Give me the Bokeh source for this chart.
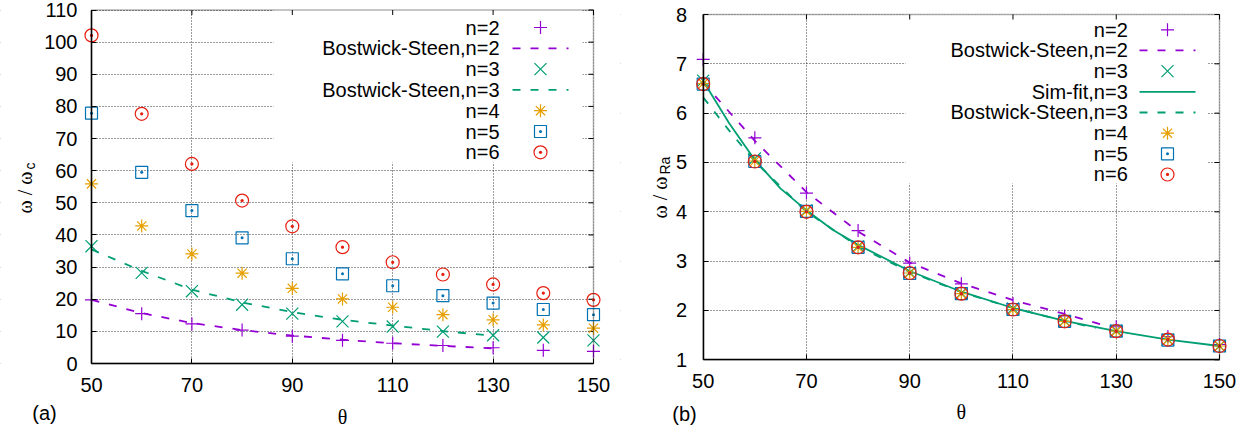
import math
from bokeh.plotting import figure
from bokeh.layouts import row
from bokeh.models import Range1d, FixedTicker, Label, BoxAnnotation, LinearAxis, Grid
from bokeh.embed import file_html
from bokeh.resources import INLINE

# ---------------- data ----------------
theta = [50, 60, 70, 80, 90, 100, 110, 120, 130, 140, 150]

# panel (a): omega / omega_c
a_n2 = [19.8, 15.5, 12.3, 10.4, 8.5, 7.2, 6.3, 5.6, 4.9, 4.1, 3.8]
a_n3 = [36.5, 28.2, 22.5, 18.3, 15.5, 13.1, 11.5, 9.9, 8.8, 8.1, 7.2]
a_n4 = [55.9, 42.8, 34.1, 28.1, 23.4, 20.1, 17.5, 15.2, 13.6, 12.0, 11.0]
a_n5 = [77.9, 59.5, 47.6, 39.1, 32.6, 27.9, 24.2, 21.1, 18.8, 16.8, 15.2]
a_n6 = [102.1, 77.7, 62.1, 50.7, 42.7, 36.2, 31.5, 27.7, 24.6, 21.9, 19.8]
a_bs_theta = [50, 60, 70, 80, 90, 100, 110, 120, 130]
a_bs_n2 = [19.8, 15.7, 12.6, 10.4, 8.7, 7.4, 6.3, 5.5, 4.7]
a_bs_n3 = [35.5, 28.8, 23.0, 19.0, 16.0, 13.6, 11.8, 10.1, 8.6]

# panel (b): omega / omega_Ra
b_n2 = [7.09, 5.50, 4.38, 3.62, 2.96, 2.54, 2.14, 1.89, 1.67, 1.47, 1.31]
b_n3 = [6.66, 5.08, 4.03, 3.30, 2.77, 2.35, 2.04, 1.79, 1.59, 1.41, 1.28]
b_n4 = [6.60, 5.03, 4.01, 3.28, 2.76, 2.34, 2.02, 1.78, 1.58, 1.41, 1.28]
b_n5 = [6.59, 5.02, 4.01, 3.28, 2.75, 2.34, 2.02, 1.78, 1.58, 1.40, 1.28]
b_n6 = [6.59, 5.02, 4.00, 3.28, 2.76, 2.34, 2.02, 1.78, 1.58, 1.41, 1.28]
b_fit_theta = [50, 55, 60, 65, 70, 75, 80, 90, 100, 110, 120, 130, 140, 150]
b_fit_n3 = [6.65, 5.80, 5.05, 4.47, 4.03, 3.64, 3.33, 2.80, 2.38, 2.05, 1.79, 1.58, 1.41, 1.28]
b_bs3_theta = [50, 55, 60, 70, 80, 90, 100, 110, 120, 126]
b_bs_n3 = [6.32, 5.65, 5.02, 4.00, 3.30, 2.78, 2.37, 2.05, 1.79, 1.64]
b_bs2_theta = [50, 60, 70, 80, 90, 100, 110, 120, 127]
b_bs_n2 = [6.62, 5.44, 4.40, 3.60, 2.97, 2.55, 2.21, 1.93, 1.72]

x_ticks = [50, 70, 90, 110, 130, 150]
a_y_ticks = list(range(0, 111, 10))
b_y_ticks = list(range(1, 9))

PURPLE = "#9400d3"
GREEN = "#009e73"
ORANGE = "#e69f00"
BLUE = "#0072b2"
RED = "#e51e10"
SANS = "Liberation Sans"
SERIF = "Liberation Serif"
FS = "20px"
DASH = "8 10"
H = 432


class Panel:
    """Figure whose frame is the whole canvas; the data box sits at pixel box (L, T, R, B)."""

    def __init__(self, W, box, xr, yr, yticks, ylab_std):
        self.L, self.T, self.R, self.B = box
        self.xr, self.yr = xr, yr
        p = figure(width=W, height=H,
                   x_range=Range1d(self.X(0), self.X(W)), y_range=Range1d(self.Y(H), self.Y(0)),
                   x_axis_type=None, y_axis_type=None, output_backend="svg",
                   toolbar_location=None, min_border=0, min_border_left=0,
                   min_border_right=0, min_border_top=0, min_border_bottom=0)
        p.background_fill_color = "white"
        p.border_fill_color = "white"
        p.outline_line_color = None
        self.p = p
        # grids
        for dim, ticks, bnds in ((0, x_ticks, xr), (1, yticks, yr)):
            g = Grid(dimension=dim, ticker=FixedTicker(ticks=ticks), bounds=bnds)
            g.grid_line_color = "#222222"
            g.grid_line_alpha = 0.9
            g.grid_line_dash = "1 2"
            g.grid_line_width = 1
            p.add_layout(g)
        # hide grid outside of the data box
        for kw in (dict(right=xr[0]), dict(left=xr[1]), dict(top=yr[0]), dict(bottom=yr[1])):
            p.add_layout(BoxAnnotation(fill_color="white", fill_alpha=1.0, line_color=None,
                                       level="underlay", **kw))
        # axes pinned to the box edges
        xa = LinearAxis(fixed_location=yr[0], bounds=xr, ticker=FixedTicker(ticks=x_ticks))
        ya = LinearAxis(fixed_location=xr[0], bounds=yr, ticker=FixedTicker(ticks=yticks))
        for ax in (xa, ya):
            ax.major_tick_in = 5
            ax.major_tick_out = 0
            ax.minor_tick_in = 0
            ax.minor_tick_out = 0
            ax.axis_line_width = 1.5
            ax.axis_line_color = "black"
            ax.major_tick_line_color = "black"
            ax.major_tick_line_width = 1
            ax.major_label_text_font = SANS
            ax.major_label_text_font_size = FS
            ax.major_label_text_color = "black"
        xa.major_label_standoff = 14
        ya.major_label_standoff = ylab_std
        p.add_layout(xa, "below")
        p.add_layout(ya, "left")
        # top / right border with mirrored ticks
        tx = 5 * (xr[1] - xr[0]) / (self.R - self.L)
        ty = 5 * (yr[1] - yr[0]) / (self.B - self.T)
        p.segment(x_ticks, [yr[1]] * len(x_ticks), x_ticks, [yr[1] - ty] * len(x_ticks),
                  line_color="black", line_width=1)
        p.segment([xr[1]] * len(yticks), yticks, [xr[1] - tx] * len(yticks), yticks,
                  line_color="black", line_width=1)
        p.add_layout(BoxAnnotation(left=xr[0], right=xr[1], bottom=yr[0], top=yr[1],
                                   fill_color=None, fill_alpha=0, line_color="black",
                                   line_width=1.5))

    def X(self, px):
        return self.xr[0] + (px - self.L) * (self.xr[1] - self.xr[0]) / (self.R - self.L)

    def Y(self, py):
        return self.yr[0] + (self.B - py) * (self.yr[1] - self.yr[0]) / (self.B - self.T)

    def text(self, px, py, s, font=SANS, size=FS, align="center", base="middle", angle=0.0):
        self.p.add_layout(Label(x=self.X(px), y=self.Y(py), text=s, text_align=align,
                                text_baseline=base, text_font=font, text_font_size=size,
                                text_color="black", angle=angle))

    def series(self, xs, ys, marker, color, size):
        self.p.scatter(xs, ys, marker=marker, size=size, line_color=color, fill_alpha=0,
                       line_width=1.2)

    def curve(self, xs, ys, color, dash):
        self.p.line(xs, ys, line_color=color, line_width=1.8, line_dash=dash)

    def legend(self, items, text_right, s_l, s_r, row0, pitch, box):
        self.p.add_layout(BoxAnnotation(left=self.X(box[0]), right=self.X(box[1]),
                                        top=self.Y(box[2]), bottom=self.Y(box[3]),
                                        fill_color="white", fill_alpha=1.0, line_color=None,
                                        level="underlay"))
        for i, (label, kind, color, extra) in enumerate(items):
            py = row0 + pitch * i
            self.text(text_right, py, label, align="right")
            if kind == "line":
                self.p.line([self.X(s_l), self.X(s_r)], [self.Y(py), self.Y(py)],
                            line_color=color, line_width=1.8, line_dash=extra)
            else:
                self.p.scatter([self.X((s_l + s_r) / 2)], [self.Y(py)], marker=kind,
                               size=extra, line_color=color, fill_alpha=0, line_width=1.2)


# ---------------- panel (a) ----------------
A = Panel(620, (91, 9.5, 593, 363), (50, 150), (0, 110), a_y_ticks, 14)
A.series(theta, a_n2, "cross", PURPLE, 13)
A.curve(a_bs_theta, a_bs_n2, PURPLE, DASH)
A.series(theta, a_n3, "x", GREEN, 17)
A.curve(a_bs_theta, a_bs_n3, GREEN, DASH)
A.series(theta, a_n4, "asterisk", ORANGE, 13)
A.series(theta, a_n5, "square_dot", BLUE, 12)
A.series(theta, a_n6, "circle_dot", RED, 13)

a_items = [
    ("n=2", "cross", PURPLE, 13),
    ("Bostwick-Steen,n=2", "line", PURPLE, DASH),
    ("n=3", "x", GREEN, 17),
    ("Bostwick-Steen,n=3", "line", GREEN, DASH),
    ("n=4", "asterisk", ORANGE, 13),
    ("n=5", "square_dot", BLUE, 12),
    ("n=6", "circle_dot", RED, 13),
]
A.legend(a_items, 499, 512, 568, 27, 20.8, (273, 582, 9.5, 162))
A.text(24.5, 213, "ω / ω", font=SERIF, align="left", angle=math.pi / 2)
A.text(29.5, 169, "c", size="14px", align="left", angle=math.pi / 2)
A.text(342, 416, "θ", font=SERIF)
A.text(44, 412, "(a)")

# ---------------- panel (b) ----------------
B = Panel(630, (82.7, 14, 599, 359.3), (50, 150), (1, 8), b_y_ticks, 16)
B.series(theta, b_n2, "cross", PURPLE, 13)
B.curve(b_bs2_theta, b_bs_n2, PURPLE, DASH)
B.series(theta, b_n3, "x", GREEN, 17)
B.curve(b_fit_theta, b_fit_n3, GREEN, "solid")
B.curve(b_bs3_theta, b_bs_n3, GREEN, DASH)
B.series(theta, b_n4, "asterisk", ORANGE, 13)
B.series(theta, b_n5, "square_dot", BLUE, 12)
B.series(theta, b_n6, "circle_dot", RED, 13)

b_items = [
    ("n=2", "cross", PURPLE, 13),
    ("Bostwick-Steen,n=2", "line", PURPLE, DASH),
    ("n=3", "x", GREEN, 17),
    ("Sim-fit,n=3", "line", GREEN, "solid"),
    ("Bostwick-Steen,n=3", "line", GREEN, DASH),
    ("n=4", "asterisk", ORANGE, 13),
    ("n=5", "square_dot", BLUE, 12),
    ("n=6", "circle_dot", RED, 13),
]
B.legend(b_items, 507.3, 519, 575, 29.3, 20.67, (285, 587, 14, 183))
B.text(39.5, 218, "ω / ω", font=SERIF, align="left", angle=math.pi / 2)
B.text(44.5, 174, "Ra", size="14px", align="left", angle=math.pi / 2)
B.text(340.8, 411, "θ", font=SERIF)
B.text(64, 413, "(b)")

layout = row(A.p, B.p)
open("out.html", "w").write(file_html(layout, INLINE))
